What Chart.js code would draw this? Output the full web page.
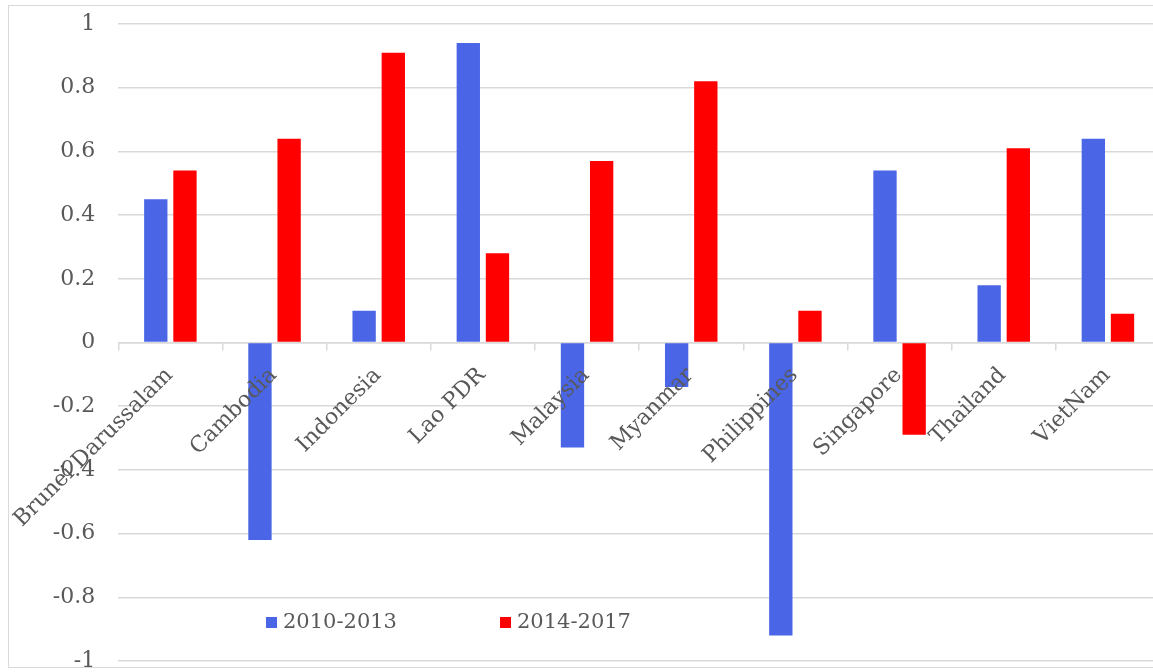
<!DOCTYPE html>
<html>
<head>
<meta charset="utf-8">
<title>ASEAN 2010-2013 vs 2014-2017</title>
<script src="https://cdn.jsdelivr.net/npm/chart.js@4.4.1/dist/chart.umd.min.js"></script>
<style>
	html, body {
		margin: 0;
		padding: 0;
		background: #ffffff;
		overflow: hidden;
	}
	#frame {
		position: absolute;
		left: 8px;
		top: 5px;
		width: 1160px;
		height: 663px;
		border: 1.5px solid #d9d9d9;
		box-sizing: border-box;
	}
	#wrap {
		position: absolute;
		left: 0;
		top: 0;
		width: 1162px;
		height: 672px;
	}
</style>
</head>
<body>
<div id="frame"></div>
<div id="wrap"><canvas id="aseanChart"></canvas></div>
<script>
//chart data

const countries = ['Brunei Darussalam', 'Cambodia', 'Indonesia', 'Lao PDR', 'Malaysia',
	'Myanmar', 'Philippines', 'Singapore', 'Thailand', 'VietNam'];

const period1Label = '2010-2013';
const period1Values = [0.45, -0.62, 0.10, 0.94, -0.33, -0.14, -0.92, 0.54, 0.18, 0.64];

const period2Label = '2014-2017';
const period2Values = [0.54, 0.64, 0.91, 0.28, 0.57, 0.82, 0.10, -0.29, 0.61, 0.09];

const yTickValues = [1, 0.8, 0.6, 0.4, 0.2, 0, -0.2, -0.4, -0.6, -0.8, -1];

const TEXT_COLOR = '#595959';
const GRID_COLOR = '#d9d9d9';
const FONT_FAMILY = '"DejaVu Serif", Georgia, serif';

//legend drawn inside the plot area, near the bottom

const insideLegend = {
	id: 'insideLegend',
	afterDraw(chart) {
		const ctx = chart.ctx;
		const xs = [266, 500];
		const yMid = 622;
		ctx.save();
		ctx.font = '21px ' + FONT_FAMILY;
		ctx.textBaseline = 'middle';
		ctx.textAlign = 'left';
		chart.data.datasets.forEach((ds, i) => {
			ctx.fillStyle = ds.backgroundColor;
			ctx.fillRect(xs[i], yMid - 5, 11, 11);
			ctx.fillStyle = TEXT_COLOR;
			ctx.fillText(ds.label, xs[i] + 17, yMid + 1);
		});
		ctx.restore();
	}
};

const config = {
	type: 'bar',
	data: {
		labels: countries,
		datasets: [{
			label: period1Label,
			data: period1Values,
			backgroundColor: '#4a66e6',
			barPercentage: 0.8,
			categoryPercentage: 0.56
		}, {
			label: period2Label,
			data: period2Values,
			backgroundColor: '#ff0000',
			barPercentage: 0.8,
			categoryPercentage: 0.56
		}]
	},
	options: {
		responsive: true,
		maintainAspectRatio: false,
		animation: false,
		layout: {
			padding: { left: 8, top: 24, right: 2, bottom: 11 }
		},
		plugins: {
			legend: { display: false },
			tooltip: { enabled: false }
		},
		scales: {
			x: {
				position: { y: 0 },
				grid: {
					display: true,
					drawOnChartArea: false,
					drawTicks: true,
					tickLength: 7,
					color: GRID_COLOR,
					lineWidth: 1.5
				},
				border: {
					display: true,
					color: GRID_COLOR,
					width: 1.5
				},
				ticks: {
					z: 1, // category names sit on top of the bars
					color: TEXT_COLOR,
					font: { family: FONT_FAMILY, size: 22 },
					minRotation: 45,
					maxRotation: 45,
					autoSkip: false,
					padding: 13,
					labelOffset: -1
				}
			},
			y: {
				min: -1,
				max: 1,
				afterFit: function (scale) {
					scale.width = 110;
					scale.paddingTop = 0;
					scale.paddingBottom = 0;
				},
				afterBuildTicks: function (scale) {
					scale.ticks = yTickValues.map(v => ({ value: v }));
				},
				grid: {
					color: GRID_COLOR,
					lineWidth: 1.5,
					drawTicks: false
				},
				border: { display: false },
				ticks: {
					color: TEXT_COLOR,
					font: { family: FONT_FAMILY, size: 22 },
					padding: 23,
					callback: function (value) {
						return String(Math.round(value * 10) / 10);
					}
				}
			}
		}
	},
	plugins: [insideLegend]
};

//initialize chart

const ctx = document.getElementById('aseanChart').getContext('2d');
const chart = new Chart(ctx, config);
</script>
</body>
</html>
